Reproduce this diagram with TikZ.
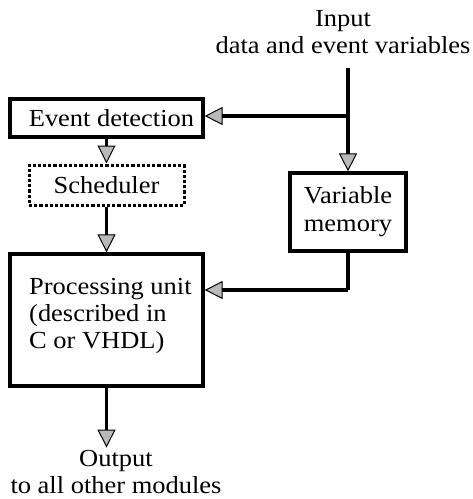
\documentclass[tikz,border=0pt]{standalone}
\usepackage{fontspec}
\usepackage{graphicx}
\setmainfont{Liberation Serif}
\usetikzlibrary{arrows.meta}
% widen each text line a little
\newcommand{\wl}[1]{\scalebox{1.08}[1]{#1}}
\tikzset{
  blk/.style={draw, line width=3.2pt, inner sep=0pt, align=center,
    font=\fontsize{24.5}{28}\selectfont},
  dotblk/.style={blk, dotted, line width=3pt},
  lbl/.style={align=center, inner sep=0pt, font=\fontsize{24.5}{27}\selectfont},
  flow/.style={line width=3.2pt,
    -{Triangle[length=18pt,width=18pt,line width=1pt,fill=gray!55]}},
  wire/.style={line width=3.2pt}
}
\begin{document}
\begin{tikzpicture}[x=1pt,y=-1pt]
\useasboundingbox (0,0) rectangle (473,499);
% labels
\node[lbl] (inp) at (343,32) {\wl{Input}\\\wl{data and event variables}};
\node[lbl] (outp) at (116,472) {\wl{Output}\\\wl{to all other modules}};
% blocks
\node[blk, minimum width=193pt, minimum height=38pt] (ed) at (106.5,118) {\hspace*{10pt}\wl{Event detection}};
\node[dotblk, minimum width=155pt, minimum height=40pt] (sch) at (106.5,185) {\wl{Scheduler}};
\node[blk, minimum width=116pt, minimum height=78pt] (vm) at (348,212) {\wl{Variable}\\\wl{memory}};
\node[blk, minimum width=193pt, minimum height=132pt] (pu) at (106.5,320) {};
\node[lbl, align=left, anchor=west] (put) at (29,316)
  {\wl{Processing unit}\\\wl{(described in}\\\wl{C or VHDL)}};
% junctions
\coordinate (jin) at (348,68);
\coordinate (j1) at (348,116);
\coordinate (j2) at (348,290);
% connectors
\draw[flow] (jin) -- (vm.north);
\draw[flow] (j1) -- (j1 -| ed.east);
\draw[flow] (ed.south) -- (sch.north);
\draw[flow] (sch.south) -- (pu.north);
\draw[wire] (vm.south) -- (j2);
\draw[flow] (j2) -- (j2 -| pu.east);
\draw[flow] (pu.south) -- ++(0,60);
\end{tikzpicture}
\end{document}
